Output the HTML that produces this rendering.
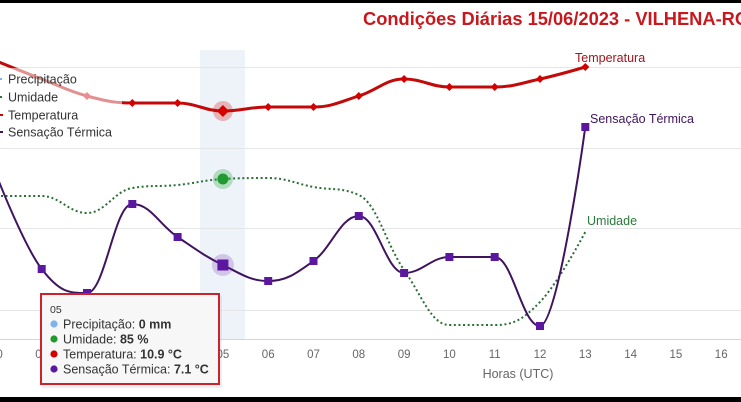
<!DOCTYPE html>
<html><head><meta charset="utf-8"><style>
html,body{margin:0;padding:0;background:#fff;}
svg{display:block;font-family:"Liberation Sans",Arial,sans-serif;}
</style></head><body>
<svg width="741" height="402" viewBox="0 0 741 402" xmlns="http://www.w3.org/2000/svg">
<rect x="0" y="0" width="741" height="402" fill="#fff"/>
<!-- highlight band -->
<rect x="200" y="50" width="45" height="289" fill="#eef2f9"/>
<!-- grid -->
<g stroke="#e6e6e6" stroke-width="1">
<line x1="0" y1="67.5" x2="741" y2="67.5"/>
<line x1="0" y1="148.5" x2="741" y2="148.5"/>
<line x1="0" y1="228.5" x2="741" y2="228.5"/>
<line x1="0" y1="310.5" x2="741" y2="310.5"/>
</g>
<line x1="0" y1="339.5" x2="741" y2="339.5" stroke="#d6d6d6" stroke-width="1"/>
<!-- title -->
<text x="363" y="25" font-size="18.3" font-weight="bold" fill="#c8181e">Condições Diárias 15/06/2023 - VILHENA-RO</text>
<!-- tick labels -->
<g font-size="11.5" fill="#666" text-anchor="middle">
<text x="-3.6" y="358">00</text>
<text x="41.7" y="358">01</text>
<text x="87" y="358">02</text>
<text x="132.3" y="358">03</text>
<text x="177.6" y="358">04</text>
<text x="222.9" y="358">05</text>
<text x="268.2" y="358">06</text>
<text x="313.5" y="358">07</text>
<text x="358.8" y="358">08</text>
<text x="404.1" y="358">09</text>
<text x="449.4" y="358">10</text>
<text x="494.7" y="358">11</text>
<text x="540" y="358">12</text>
<text x="585.3" y="358">13</text>
<text x="630.6" y="358">14</text>
<text x="675.9" y="358">15</text>
<text x="721.2" y="358">16</text>
</g>
<text x="518" y="378" font-size="12.5" fill="#666" text-anchor="middle">Horas (UTC)</text>

<!-- Umidade -->
<path d="M -3.6 196 C -3.6 196, 23.6 196, 41.7 196 C 59.8 196, 68.9 213, 87 213 C 105.1 213, 114.2 191, 132.3 188 C 150.4 185, 159.5 186.8, 177.6 185 C 195.7 183.2, 204.8 180, 222.9 179 C 241 178, 250.1 178, 268.2 178 C 286.3 178, 295.4 183.6, 313.5 187 C 331.6 190.4, 340.7 187, 358.8 195 C 376.9 203, 386 244, 404.1 270 C 422.2 296, 431.3 325, 449.4 325 C 467.5 325, 476.6 325, 494.7 325 C 512.8 325, 521.9 320.6, 540 302 C 558.1 283.4, 585.3 232, 585.3 232" fill="none" stroke="#2a6e35" stroke-width="2" stroke-dasharray="2,2.6"/>

<!-- Temperatura -->
<path d="M -3.6 61 C -3.6 61, 23.6 72, 41.7 79 C 59.8 86, 68.9 91.2, 87 96 C 105.1 100.8, 114.2 103, 132.3 103 C 150.4 103, 159.5 103, 177.6 103 C 195.7 103, 204.8 111, 222.9 111 C 241 111, 250.1 107, 268.2 107 C 286.3 107, 295.4 107, 313.5 107 C 331.6 107, 340.7 101.6, 358.8 96 C 376.9 90.4, 386 79, 404.1 79 C 422.2 79, 431.3 87, 449.4 87 C 467.5 87, 476.6 87, 494.7 87 C 512.8 87, 521.9 83, 540 79 C 558.1 75, 585.3 67, 585.3 67" fill="none" stroke="#c20a0a" stroke-width="3"/>
<g fill="#d40000">
<path d="M87 92 L91 96 L87 100 L83 96 Z"/>
<path d="M132.3 99 L136.3 103 L132.3 107 L128.3 103 Z"/>
<path d="M177.6 99 L181.6 103 L177.6 107 L173.6 103 Z"/>
<path d="M268.2 103 L272.2 107 L268.2 111 L264.2 107 Z"/>
<path d="M313.5 103 L317.5 107 L313.5 111 L309.5 107 Z"/>
<path d="M358.8 92 L362.8 96 L358.8 100 L354.8 96 Z"/>
<path d="M404.1 75 L408.1 79 L404.1 83 L400.1 79 Z"/>
<path d="M449.4 83 L453.4 87 L449.4 91 L445.4 87 Z"/>
<path d="M494.7 83 L498.7 87 L494.7 91 L490.7 87 Z"/>
<path d="M540 75 L544 79 L540 83 L536 79 Z"/>
<path d="M585.3 63 L589.3 67 L585.3 71 L581.3 67 Z"/>
</g>
<circle cx="222.9" cy="111" r="10" fill="rgba(204,0,0,0.25)"/>
<path d="M222.9 105 L228.9 111 L222.9 117 L216.9 111 Z" fill="#d40000"/>

<!-- Sensação Térmica -->
<path d="M -3.6 175 C -3.6 175, 23.6 245.4, 41.7 269 C 59.8 292.6, 68.9 293, 87 293 C 105.1 293, 114.2 204, 132.3 204 C 150.4 204, 159.5 224.8, 177.6 237 C 195.7 249.2, 204.8 256.2, 222.9 265 C 241 273.8, 250.1 281, 268.2 281 C 286.3 281, 295.4 274, 313.5 261 C 331.6 248, 340.7 216, 358.8 216 C 376.9 216, 386 273, 404.1 273 C 422.2 273, 431.3 257, 449.4 257 C 467.5 257, 476.6 257, 494.7 257 C 512.8 257, 521.9 326, 540 326 C 558.1 326, 585.3 127, 585.3 127" fill="none" stroke="#3f145f" stroke-width="2"/>
<g fill="#5c17a0">
<rect x="37.7" y="265" width="8" height="8"/>
<rect x="83" y="289" width="8" height="8"/>
<rect x="128.3" y="200" width="8" height="8"/>
<rect x="173.6" y="233" width="8" height="8"/>
<rect x="264.2" y="277" width="8" height="8"/>
<rect x="309.5" y="257" width="8" height="8"/>
<rect x="354.8" y="212" width="8" height="8"/>
<rect x="400.1" y="269" width="8" height="8"/>
<rect x="445.4" y="253" width="8" height="8"/>
<rect x="490.7" y="253" width="8" height="8"/>
<rect x="536" y="322" width="8" height="8"/>
<rect x="581.3" y="123" width="8" height="8"/>
</g>
<circle cx="222.9" cy="265" r="11" fill="rgba(110,40,170,0.22)"/>
<rect x="217.4" y="259.5" width="11" height="11" fill="#5c17a0"/>

<!-- Umidade hover marker -->
<circle cx="222.9" cy="179" r="10" fill="rgba(40,170,60,0.3)"/>
<circle cx="222.9" cy="179" r="5.5" fill="#1f9a2e"/>

<!-- data labels -->
<text x="575" y="62" font-size="12.5" fill="#a3141c">Temperatura</text>
<text x="590" y="123" font-size="12.5" fill="#3f145f">Sensação Térmica</text>
<text x="587" y="225" font-size="12.5" fill="#2b7a3a">Umidade</text>

<!-- legend -->
<rect x="0" y="68" width="122" height="79" fill="rgba(255,255,255,0.55)"/>
<rect x="0" y="78" width="2" height="2" fill="#7cb5ec"/>
<rect x="0" y="96" width="2" height="2" fill="#2b7a3a"/>
<rect x="0" y="114" width="3" height="2" fill="#c80808"/>
<rect x="0" y="131" width="3" height="2" fill="#3f145f"/>
<g font-size="12.5" fill="#333">
<text x="8" y="83.5">Precipitação</text>
<text x="8" y="101.5">Umidade</text>
<text x="8" y="119.5">Temperatura</text>
<text x="8" y="136.5">Sensação Térmica</text>
</g>

<!-- tooltip -->
<rect x="42" y="296" width="180" height="92" fill="rgba(0,0,0,0.06)"/>
<rect x="41" y="294" width="178" height="90" fill="#f7f7f7" stroke="#cc222b" stroke-width="2"/>
<text x="50" y="313" font-size="10.5" fill="#333">05</text>
<circle cx="54" cy="324" r="3.6" fill="#7cb5ec"/>
<circle cx="54" cy="339" r="3.6" fill="#1f9a2e"/>
<circle cx="54" cy="354" r="3.6" fill="#d40000"/>
<circle cx="54" cy="369" r="3.6" fill="#5c17a0"/>
<g font-size="12.5" fill="#333">
<text x="63" y="328.5">Precipitação: <tspan font-weight="bold">0 mm</tspan></text>
<text x="63" y="343.5">Umidade: <tspan font-weight="bold">85 %</tspan></text>
<text x="63" y="358.5">Temperatura: <tspan font-weight="bold">10.9 °C</tspan></text>
<text x="63" y="373.5">Sensação Térmica: <tspan font-weight="bold">7.1 °C</tspan></text>
</g>

<!-- black bars -->
<rect x="0" y="0" width="741" height="3" fill="#000"/>
<rect x="0" y="397" width="741" height="5" fill="#000"/>
</svg>
</body></html>
